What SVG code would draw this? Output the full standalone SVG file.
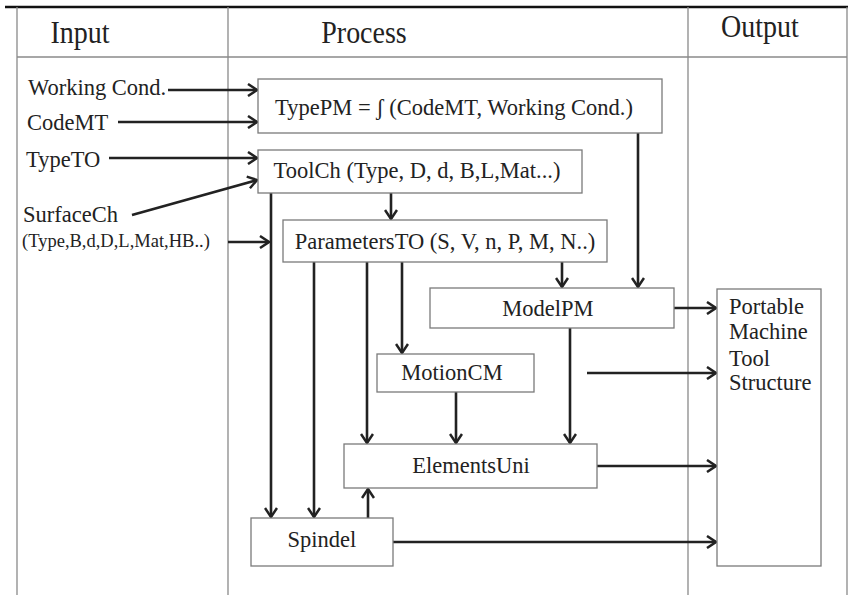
<svg xmlns="http://www.w3.org/2000/svg" width="851" height="595" viewBox="0 0 851 595">
<defs>
<style>
text{font-family:"Liberation Serif","Times New Roman",serif;fill:#222;}
.hd{font-size:28px;}
.tx{font-size:22.5px;}
.sm{font-size:18.5px;}
.grid{stroke:#8a8a8a;stroke-width:1.3;fill:none;}
.box{fill:#fff;stroke:#7a7a7a;stroke-width:1.3;}
.c{stroke:#222;stroke-width:2.6;fill:none;marker-end:url(#ah);}
</style>
<marker id="ah" viewBox="0 0 14 14" refX="12" refY="7" markerWidth="14" markerHeight="14" markerUnits="userSpaceOnUse" orient="auto">
<path d="M3,1 L12,7 L3,13" fill="none" stroke="#222" stroke-width="2.5"/>
</marker>
</defs>
<rect width="851" height="595" fill="#fff"/>
<g id="table">
<line x1="5" y1="7" x2="848" y2="7" stroke="#111" stroke-width="2.6"/>
<path class="grid" d="M17,7 V595 M228,7 V595 M688,7 V595 M847,7 V595 M17,57 H847"/>
<text class="hd" x="80" y="43" text-anchor="middle" transform="translate(0,-4.3) scale(1,1.1)">Input</text>
<text class="hd" x="364" y="43" text-anchor="middle" transform="translate(0,-4.3) scale(1,1.1)">Process</text>
<text class="hd" x="760" y="37" text-anchor="middle" transform="translate(0,-3.7) scale(1,1.1)">Output</text>
</g>
<g id="inputs">
<text class="tx" x="28" y="95">Working Cond.</text>
<text class="tx" x="27" y="130">CodeMT</text>
<text class="tx" x="26" y="167">TypeTO</text>
<text class="tx" x="23" y="222">SurfaceCh</text>
<text class="sm" x="22" y="247">(Type,B,d,D,L,Mat,HB..)</text>
</g>
<g id="connectors">
<path class="c" d="M168,90 H257"/>
<path class="c" d="M118,122 H257"/>
<path class="c" d="M109,158 H257"/>
<path class="c" d="M132,215 L257,180"/>
<path class="c" d="M228,242 H269"/>
<path class="c" d="M391,193 V219"/>
<path class="c" d="M638,133 V287"/>
<path class="c" d="M271,193 V517"/>
<path class="c" d="M314,262 V517"/>
<path class="c" d="M367,262 V443"/>
<path class="c" d="M402,262 V353"/>
<path class="c" d="M562,262 V287"/>
<path class="c" d="M570,328 V443"/>
<path class="c" d="M456,392 V443"/>
<path class="c" d="M674,308 H716"/>
<path class="c" d="M587,373 H716"/>
<path class="c" d="M597,466 H716"/>
<path class="c" d="M368,518 V489"/>
<path class="c" d="M393,542 H716"/>
</g>
<g id="typepm">
<rect class="box" x="258" y="79" width="404" height="54"/>
<text class="tx" x="454" y="115" text-anchor="middle">TypePM = ʃ (CodeMT, Working Cond.)</text>
</g>
<g id="toolch">
<rect class="box" x="258" y="150" width="324" height="43"/>
<text class="tx" x="417" y="178" text-anchor="middle">ToolCh (Type, D, d, B,L,Mat...)</text>
</g>
<g id="parameterso">
<rect class="box" x="283" y="220" width="324" height="42"/>
<text class="tx" x="445" y="249" text-anchor="middle">ParametersTO (S, V, n, P, M, N..)</text>
</g>
<g id="modelpm">
<rect class="box" x="430" y="288" width="244" height="40"/>
<text class="tx" x="548" y="316" text-anchor="middle">ModelPM</text>
</g>
<g id="motioncm">
<rect class="box" x="377" y="354" width="157" height="38"/>
<text class="tx" x="452" y="380" text-anchor="middle">MotionCM</text>
</g>
<g id="elementsuni">
<rect class="box" x="344" y="444" width="253" height="44"/>
<text class="tx" x="471" y="473" text-anchor="middle">ElementsUni</text>
</g>
<g id="spindel">
<rect class="box" x="251" y="518" width="142" height="48"/>
<text class="tx" x="322" y="547" text-anchor="middle">Spindel</text>
</g>
<g id="output">
<rect class="box" x="717" y="289" width="104" height="277"/>
<text class="tx" x="729" y="314">Portable</text>
<text class="tx" x="729" y="339">Machine</text>
<text class="tx" x="729" y="366">Tool</text>
<text class="tx" x="729" y="390">Structure</text>
</g>
</svg>
